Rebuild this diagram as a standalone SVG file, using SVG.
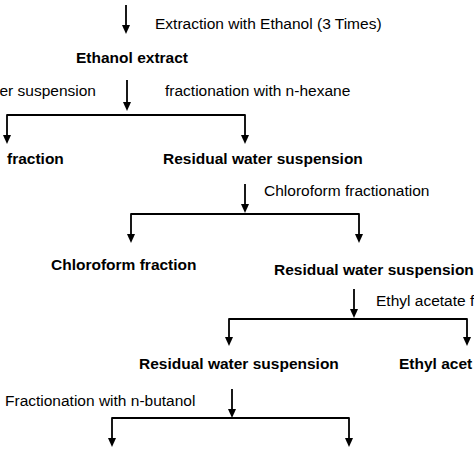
<svg xmlns="http://www.w3.org/2000/svg" width="474" height="453" viewBox="0 0 474 453">
<defs>
<marker id="ah" viewBox="0 0 8 9" refX="4" refY="9" markerWidth="8" markerHeight="9" markerUnits="userSpaceOnUse" orient="auto-start-reverse">
<path d="M0,0 L8,0 L4,9 Z" fill="#000"/>
</marker>
<style>
.t{font-family:"Liberation Sans",Arial,sans-serif;font-size:15.5px;fill:#000}
.b{font-weight:bold}
.c{fill:none;stroke:#000;stroke-width:1.8;stroke-linejoin:round}
</style>
</defs>
<rect width="474" height="453" fill="#fff"/>
<g id="connectors">
<path class="c" d="M126,5 V26"/><path d="M122,25 L130,25 L126,34 Z"/>
<path class="c" d="M127,80 V103"/><path d="M123,102 L131,102 L127,111 Z"/>
<path class="c" d="M7,136 V115 H245 V136"/><path d="M3,135 L11,135 L7,144 Z"/><path d="M241,135 L249,135 L245,144 Z"/>
<path class="c" d="M245,184 V205"/><path d="M241,204 L249,204 L245,213 Z"/>
<path class="c" d="M131,235 V214 H359 V235"/><path d="M127,234 L135,234 L131,243 Z"/><path d="M355,234 L363,234 L359,243 Z"/>
<path class="c" d="M354,289 V310"/><path d="M350,309 L358,309 L354,318 Z"/>
<path class="c" d="M229,338 V319 H467 V338"/><path d="M225,337 L233,337 L229,346 Z"/><path d="M463,337 L471,337 L467,346 Z"/>
<path class="c" d="M232,389 V410"/><path d="M228,409 L236,409 L232,418 Z"/>
<path class="c" d="M112,439 V418 H349 V439"/><path d="M108,438 L116,438 L112,447 Z"/><path d="M345,438 L353,438 L349,447 Z"/>
</g>
<g id="label-extraction"><text class="t" x="155" y="29">Extraction with Ethanol (3 Times)</text></g>
<g id="node-ethanol-extract"><text class="t b" x="76" y="63">Ethanol extract</text></g>
<g id="label-water-suspension"><text class="t" x="96" y="96" text-anchor="end">er suspension</text></g>
<g id="label-hexane"><text class="t" x="165" y="96">fractionation with n-hexane</text></g>
<g id="node-fraction"><text class="t b" x="7" y="164">fraction</text></g>
<g id="node-residual-1"><text class="t b" x="163" y="164">Residual water suspension</text></g>
<g id="label-chloroform"><text class="t" x="264" y="196">Chloroform fractionation</text></g>
<g id="node-chloroform-fraction"><text class="t b" x="51" y="270">Chloroform fraction</text></g>
<g id="node-residual-2"><text class="t b" x="274" y="275">Residual water suspension</text></g>
<g id="label-ethyl-acetate"><text class="t" x="376" y="306">Ethyl acetate f</text></g>
<g id="node-residual-3"><text class="t b" x="139" y="369">Residual water suspension</text></g>
<g id="node-ethyl-acetate"><text class="t b" x="399" y="369">Ethyl acet</text></g>
<g id="label-butanol"><text class="t" x="5" y="406">Fractionation with n-butanol</text></g>
</svg>
